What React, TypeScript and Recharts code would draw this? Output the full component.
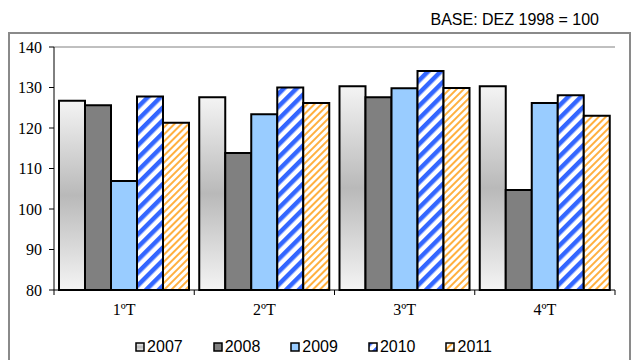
import React from 'react'
import {
  BarChart,
  Bar,
  XAxis,
  YAxis,
  Legend,
  ReferenceLine,
} from 'recharts'

const quarters = ['1ºT', '2ºT', '3ºT', '4ºT']
const v2007 = [126.7, 127.6, 130.3, 130.3]
const v2008 = [125.6, 113.8, 127.6, 104.7]
const v2009 = [106.9, 123.4, 129.8, 126.2]
const v2010 = [127.8, 130.0, 134.1, 128.1]
const v2011 = [121.3, 126.2, 129.9, 123.0]
const yTicks = [80, 90, 100, 110, 120, 130, 140]

const data = quarters.map((q, i) => ({
  q,
  y2007: v2007[i],
  y2008: v2008[i],
  y2009: v2009[i],
  y2010: v2010[i],
  y2011: v2011[i],
}))

const series = [
  { key: 'y2007', name: '2007', fill: 'url(#g2007)' },
  { key: 'y2008', name: '2008', fill: '#808080' },
  { key: 'y2009', name: '2009', fill: '#99ccff' },
  { key: 'y2010', name: '2010', fill: 'url(#p2010)' },
  { key: 'y2011', name: '2011', fill: 'url(#p2011)' },
]

const W = 632
const H = 360
const MARGIN = { top: 47, right: 17, bottom: 0, left: 0 }
const Y_W = 54
const BAND = (W - MARGIN.left - MARGIN.right - Y_W) / quarters.length
const SERIF = '"Liberation Serif", "Times New Roman", serif'
const SANS = '"Liberation Sans", Arial, sans-serif'

// category label plus tick marks on the category boundaries
const QuarterTick = (props: any) => {
  const { x, y, payload, index } = props
  const axisY = y - 7
  const half = BAND / 2
  return (
    <g>
      <line x1={x - half} x2={x - half} y1={axisY} y2={axisY + 5} stroke="#000" />
      {index === quarters.length - 1 && (
        <line x1={x + half} x2={x + half} y1={axisY} y2={axisY + 5} stroke="#000" />
      )}
      <text x={x} y={y} dy={18} textAnchor="middle" fontFamily={SERIF} fontSize={16} fill="#000">
        {payload.value}
      </text>
    </g>
  )
}

const LegendContent = () => (
  <div
    style={{
      display: 'flex',
      justifyContent: 'center',
      gap: 30,
      paddingLeft: 12,
      fontFamily: SANS,
      fontSize: 16,
      lineHeight: '26px',
      color: '#000',
    }}
  >
    {series.map((s) => (
      <span key={s.key} style={{ display: 'flex', alignItems: 'center' }}>
        <svg width={10} height={10} style={{ marginRight: 2 }}>
          <rect x={1} y={1} width={8} height={8} fill={s.fill} stroke="#000" strokeWidth={1.5} />
        </svg>
        {s.name}
      </span>
    ))}
  </div>
)

export default function App() {
  return (
    <div
      style={{
        position: 'absolute',
        left: 0,
        top: 0,
        width: W,
        height: H,
        overflow: 'hidden',
        background: '#fff',
      }}
    >
      <div
        style={{
          position: 'absolute',
          right: W - 599,
          top: 11,
          fontFamily: SANS,
          fontSize: 16,
          lineHeight: '18px',
          color: '#000',
          whiteSpace: 'nowrap',
        }}
      >
        BASE: DEZ 1998 = 100
      </div>
      <div
        style={{
          position: 'absolute',
          left: 8,
          top: 32,
          width: 619,
          height: 360,
          border: '2px solid #8a8a8a',
        }}
      />
      <div style={{ position: 'absolute', left: 0, top: 0 }}>
        <BarChart
          width={W}
          height={H}
          data={data}
          margin={MARGIN}
          barCategoryGap={5}
          barGap="0%"
        >
          <defs>
            <linearGradient id="g2007" x1="0" y1="0" x2="0" y2="1">
              <stop offset="0%" stopColor="#f4f4f4" />
              <stop offset="50%" stopColor="#b9b9b9" />
              <stop offset="100%" stopColor="#f4f4f4" />
            </linearGradient>
            <pattern
              id="p2010"
              patternUnits="userSpaceOnUse"
              width={9}
              height={9}
              patternTransform="rotate(45)"
            >
              <rect width={9} height={9} fill="#fff" />
              <rect width={4.5} height={9} fill="#3366ff" />
            </pattern>
            <pattern
              id="p2011"
              patternUnits="userSpaceOnUse"
              width={5}
              height={5}
              patternTransform="rotate(45)"
            >
              <rect width={5} height={5} fill="#fff" />
              <rect width={2} height={5} fill="#ffb040" />
            </pattern>
          </defs>
          <XAxis
            dataKey="q"
            height={44}
            tickSize={5}
            tickMargin={2}
            tickLine={false}
            axisLine={{ stroke: '#000' }}
            tick={<QuarterTick />}
            interval={0}
          />
          <YAxis
            width={Y_W}
            domain={[80, 140]}
            ticks={yTicks}
            tickSize={5}
            tickMargin={7}
            axisLine={{ stroke: '#000' }}
            tickLine={{ stroke: '#000' }}
            tick={{ fill: '#000', fontFamily: SERIF, fontSize: 16 }}
          />
          <YAxis
            yAxisId="frame"
            orientation="right"
            width={0}
            tick={false}
            tickLine={false}
            axisLine={{ stroke: '#808080' }}
          />
          <ReferenceLine y={140} stroke="#808080" />
          <Legend
            verticalAlign="bottom"
            height={26}
            wrapperStyle={{ height: 26 }}
            content={<LegendContent />}
          />
          {series.map((s) => (
            <Bar
              key={s.key}
              dataKey={s.key}
              name={s.name}
              fill={s.fill}
              stroke="#000"
              strokeWidth={2}
              isAnimationActive={false}
            />
          ))}
        </BarChart>
      </div>
    </div>
  )
}
